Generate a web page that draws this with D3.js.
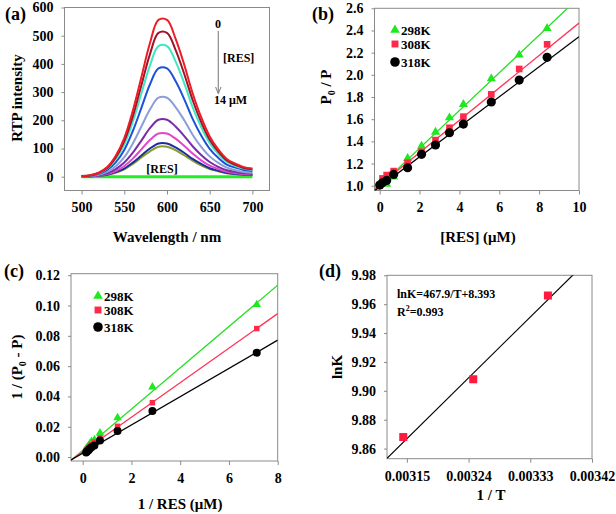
<!DOCTYPE html>
<html><head><meta charset="utf-8">
<script src="https://cdn.jsdelivr.net/npm/d3@7"></script>
<style>
body{margin:0;background:#fff;}
svg{display:block;}
text{font-family:"Liberation Serif","Times New Roman",serif;font-weight:bold;fill:#000;}
</style></head>
<body>
<svg id="c" width="616" height="514"></svg>
<script>
// ---------- Panel (a) data ----------
const wavelengths = [500,510,520,530,540,550,560,570,580,590,600,610,620,630,640,650,660,670,680,690,700];
const specRed      = [2,5,14,34,74,137,234,353,473,556,556,490,399,296,211,143,97,63,46,34,29];
const specDarkRed  = [2,4,13,31,68,126,214,324,434,510,510,450,366,272,194,131,89,58,42,31,26];
const specTurq     = [2,4,12,29,62,114,195,295,394,463,463,409,333,247,176,119,81,52,38,29,24];
const specBlue     = [2,3,10,24,51,95,162,244,327,384,384,339,276,205,146,99,67,43,32,24,20];
const specLtBlue   = [1,2,7,17,37,69,118,178,238,280,280,247,201,149,106,72,49,32,23,17,14];
const specPurple   = [1,2,5,12,27,50,85,128,172,202,202,178,145,108,77,52,35,23,17,12,10];
const specMagenta  = [1,1,4,9,20,38,64,97,130,153,153,135,110,82,58,39,27,17,13,9,8];
const specDkBlue   = [1,1,3,7,16,29,50,75,100,118,118,104,85,63,45,30,21,13,10,7,6];
const specOlive    = [1,1,3,7,14,26,45,68,90,106,106,94,76,57,40,27,19,12,9,7,5];
const specRES      = [0,0,0,0,0,0,0,0,0,0,0,0,0,0,0,0,0,0,0,0,0];
const spectra = [specOlive,specDkBlue,specMagenta,specPurple,specLtBlue,specBlue,specTurq,specDarkRed,specRed];
const spectraColors = ["#8a9c2c","#1a2ea0","#e048c8","#7a2ca8","#8c9ed8","#1e50d8","#3de8c0","#a0142a","#ee1c25"];
const aXTicks = [500,550,600,650,700];
const aYTicks = [0,100,200,300,400,500,600];

// ---------- Panel (b) data ----------
const resConc = [0,0.14,0.35,0.7,1.4,2.1,2.8,3.5,4.2,5.6,7.0,8.4];
const b298 = [1.0,1.03,1.015,1.081,1.247,1.358,1.484,1.614,1.734,1.965,2.179,2.42];
const b308 = [1.0,1.066,1.096,1.132,1.207,1.307,1.412,1.523,1.623,1.824,2.053,2.275];
const b318 = [1.006,1.027,1.048,1.102,1.162,1.283,1.367,1.478,1.556,1.755,1.953,2.158];
const bSlopes = [0.170,0.146,0.1355];
const bIntercepts = [0.998,1.007,0.989];
const bXTicks = [0,2,4,6,8,10];
const bYTicks = [1.0,1.2,1.4,1.6,1.8,2.0,2.2,2.4,2.6];

// ---------- Panel (c) data ----------
const invRes = [7.14,2.86,1.43,0.71,0.48,0.36,0.29,0.24,0.18,0.14];
const c298 = [0.1006,0.0462,0.026,0.0159,0.0114,0.0103,0.0088,0.0075,0.0062,0.0055];
const c308 = [0.0848,0.0359,0.0203,0.0126,0.0099,0.0082,0.0072,0.0062,0.0052,0.0045];
const c318 = [0.0689,0.0304,0.0172,0.011,0.0077,0.0065,0.0055,0.0045,0.0037,0.003];
const cSlopes = [0.01363,0.0114,0.00933];
const cIntercepts = [0.0044,0.0035,0.0025];
const cXTicks = [0,2,4,6,8];
const cYTicks = [0,0.02,0.04,0.06,0.08,0.10,0.12];

// ---------- Panel (d) data ----------
const invT = [0.0031447,0.0032468,0.0033557];
const lnK = [9.868,9.908,9.966];
const dFit = [467.9,8.393];
const dXTicks = [0.00315,0.00324,0.00333,0.00342];
const dYTicks = [9.86,9.88,9.90,9.92,9.94,9.96,9.98];

const legendLabels = ["298K","308K","318K"];
const seriesColors = ["#1ee81e","#ff2a4a","#000000"];
const lineColors = ["#22dd22","#ff3355","#000000"];

const svg = d3.select("#c");
const gray = "#8a8a8a";

function panel(opt){
  const g = svg.append("g");
  const x = d3.scaleLinear().domain(opt.xd).range(opt.xr);
  const y = d3.scaleLinear().domain(opt.yd).range(opt.yr);
  const clipId = "clip"+opt.id;
  svg.append("clipPath").attr("id",clipId).append("rect")
    .attr("x",opt.xr[0]).attr("y",opt.yr[1]).attr("width",opt.xr[1]-opt.xr[0]).attr("height",opt.yr[0]-opt.yr[1]);
  const xa = g.append("g").attr("transform",`translate(0,${opt.yr[0]})`)
    .call(d3.axisBottom(x).tickValues(opt.xt).tickFormat(opt.xf).tickSize(4).tickPadding(8));
  const ya = g.append("g").attr("transform",`translate(${opt.xr[0]},0)`)
    .call(d3.axisLeft(y).tickValues(opt.yt).tickFormat(opt.yf).tickSize(3).tickPadding(8));
  [xa,ya].forEach(a=>{
    a.select(".domain").remove();
    a.selectAll(".tick line").attr("stroke",gray);
    a.selectAll("text").style("font-size","14px").style("font-family","'Liberation Serif',serif").style("font-weight","bold");
  });
  g.append("rect").attr("x",opt.xr[0]).attr("y",opt.yr[1]).attr("width",opt.xr[1]-opt.xr[0]).attr("height",opt.yr[0]-opt.yr[1])
    .attr("fill","none").attr("stroke",gray).attr("stroke-width",1);
  const plot = svg.append("g").attr("clip-path",`url(#${clipId})`);
  return {x,y,g,plot};
}

// ---------- (a) ----------
{
  const p = panel({id:"a",xd:[480,720],xr:[64.5,269.5],yd:[-49,600],yr:[190.5,7.5],
    xt:aXTicks,yt:aYTicks,xf:d3.format("d"),yf:d3.format("d")});
  const line = d3.line().x((d,i)=>p.x(wavelengths[i])).y(d=>p.y(d)).curve(d3.curveCatmullRom);
  p.plot.append("path").datum(specRES).attr("d",line).attr("fill","none").attr("stroke","#22ee22").attr("stroke-width",3);
  spectra.forEach((s,k)=>{
    p.plot.append("path").datum(s).attr("d",line).attr("fill","none").attr("stroke",spectraColors[k]).attr("stroke-width",2);
  });
  svg.append("text").attr("x",5).attr("y",20).style("font-size","18px").text("(a)");
  svg.append("text").attr("transform","translate(22,98) rotate(-90)").attr("text-anchor","middle").style("font-size","15px").text("RTP intensity");
  svg.append("text").attr("x",167).attr("y",242).attr("text-anchor","middle").style("font-size","15px").text("Wavelength / nm");
  svg.append("text").attr("x",218).attr("y",28).attr("text-anchor","middle").style("font-size","12px").text("0");
  svg.append("defs").append("marker").attr("id","arr").attr("viewBox","0 0 10 10").attr("refX",9).attr("refY",5)
    .attr("markerWidth",6).attr("markerHeight",8).attr("orient","auto")
    .append("path").attr("d","M0,1 L10,5 L0,9").attr("fill","none").attr("stroke",gray).attr("stroke-width",1.5);
  svg.append("line").attr("x1",218.3).attr("y1",31).attr("x2",218.3).attr("y2",93).attr("stroke",gray).attr("stroke-width",1.2).attr("marker-end","url(#arr)");
  svg.append("text").attr("x",223).attr("y",62).style("font-size","12px").text("[RES]");
  svg.append("text").attr("x",214).attr("y",104).style("font-size","12px").text("14 μM");
  svg.append("text").attr("x",162).attr("y",173).attr("text-anchor","middle").style("font-size","12px").text("[RES]");
}

const symTypes = [d3.symbolTriangle,d3.symbolSquare,d3.symbolCircle];
function markers(plot,x,y,xs,ys,k,areas){
  plot.selectAll(null).data(ys).enter().append("path")
    .attr("d",d3.symbol().type(symTypes[k]).size(areas[k]))
    .attr("transform",(d,i)=>`translate(${x(xs[i])},${y(d)})`)
    .attr("fill",seriesColors[k]);
}
function legend(x0,ys){
  ys.forEach((yy,k)=>{
    const area = [40,48,72][k];
    svg.append("path").attr("d",d3.symbol().type(symTypes[k]).size(area)).attr("transform",`translate(${x0},${yy})`).attr("fill",seriesColors[k]);
    svg.append("text").attr("x",x0+6).attr("y",yy+5).style("font-size","13px").text(legendLabels[k]);
  });
}

// ---------- (b) ----------
{
  const p = panel({id:"b",xd:[-0.26,10],xr:[374.5,579],yd:[0.957,2.6],yr:[190.5,8.3],
    xt:bXTicks,yt:bYTicks,xf:d3.format("d"),yf:d3.format(".1f")});
  const xd = p.x.domain();
  [0,1,2].forEach(k=>{
    p.plot.append("line").attr("x1",p.x(xd[0])).attr("y1",p.y(bIntercepts[k]+bSlopes[k]*xd[0]))
      .attr("x2",p.x(xd[1])).attr("y2",p.y(bIntercepts[k]+bSlopes[k]*xd[1]))
      .attr("stroke",lineColors[k]).attr("stroke-width",1.3);
  });
  [b298,b308,b318].forEach((s,k)=>markers(svg,p.x,p.y,resConc,s,k,[36,44,66]));
  legend(395,[30,44,62]);
  svg.append("text").attr("x",312).attr("y",20).style("font-size","18px").text("(b)");
  const yl = svg.append("text").attr("transform","translate(331,87) rotate(-90)").attr("text-anchor","middle").style("font-size","15px");
  yl.append("tspan").text("P");
  yl.append("tspan").attr("dy",4).style("font-size","10px").text("0");
  yl.append("tspan").attr("dy",-4).text(" / P");
  svg.append("text").attr("x",478).attr("y",242).attr("text-anchor","middle").style("font-size","15px").text("[RES] (μM)");
}

// ---------- (c) ----------
{
  const p = panel({id:"c",xd:[-0.48,8],xr:[71,277.7],yd:[-0.0026,0.121],yr:[461,273.7],
    xt:cXTicks,yt:cYTicks,xf:d3.format("d"),yf:d3.format(".2f")});
  const xd = p.x.domain();
  [0,1,2].forEach(k=>{
    p.plot.append("line").attr("x1",p.x(xd[0])).attr("y1",p.y(cIntercepts[k]+cSlopes[k]*xd[0]))
      .attr("x2",p.x(xd[1])).attr("y2",p.y(cIntercepts[k]+cSlopes[k]*xd[1]))
      .attr("stroke",lineColors[k]).attr("stroke-width",1.3);
  });
  [c298,c308,c318].forEach((s,k)=>markers(svg,p.x,p.y,invRes,s,k,[32,30,50]));
  legend(98,[296,310,327]);
  svg.append("text").attr("x",4).attr("y",277).style("font-size","18px").text("(c)");
  const yl = svg.append("text").attr("transform","translate(22,367) rotate(-90)").attr("text-anchor","middle").style("font-size","15px");
  yl.append("tspan").text("1 / (P");
  yl.append("tspan").attr("dy",4).style("font-size","10px").text("0");
  yl.append("tspan").attr("dy",-4).text(" - P)");
  svg.append("text").attr("x",180).attr("y",509).attr("text-anchor","middle").style("font-size","15px").text("1 / RES (μM)");
}

// ---------- (d) ----------
{
  const p = panel({id:"d",xd:[0.003121,0.00342],xr:[387,592],yd:[9.853,9.98],yr:[458.7,275.3],
    xt:dXTicks,yt:dYTicks,xf:d3.format(".5f"),yf:d3.format(".2f")});
  const xd = p.x.domain();
  p.plot.append("line").attr("x1",p.x(xd[0])).attr("y1",p.y(dFit[0]*xd[0]+dFit[1]))
    .attr("x2",p.x(xd[1])).attr("y2",p.y(dFit[0]*xd[1]+dFit[1]))
    .attr("stroke","#000").attr("stroke-width",1.2);
  svg.selectAll(null).data(lnK).enter().append("rect")
    .attr("x",(d,i)=>p.x(invT[i])-4).attr("y",d=>p.y(d)-4).attr("width",8).attr("height",8).attr("fill","#ff1a40");
  svg.append("text").attr("x",319).attr("y",277).style("font-size","18px").text("(d)");
  svg.append("text").attr("transform","translate(342,367) rotate(-90)").attr("text-anchor","middle").style("font-size","15px").text("lnK");
  svg.append("text").attr("x",491).attr("y",500).attr("text-anchor","middle").style("font-size","15px").text("1 / T");
  svg.append("text").attr("x",397).attr("y",298).style("font-size","12px").text("lnK=467.9/T+8.393");
  const r2 = svg.append("text").attr("x",397).attr("y",316).style("font-size","12px");
  r2.append("tspan").text("R");
  r2.append("tspan").attr("dy",-5).style("font-size","8px").text("2");
  r2.append("tspan").attr("dy",5).text("=0.993");
}
</script>
</body></html>
